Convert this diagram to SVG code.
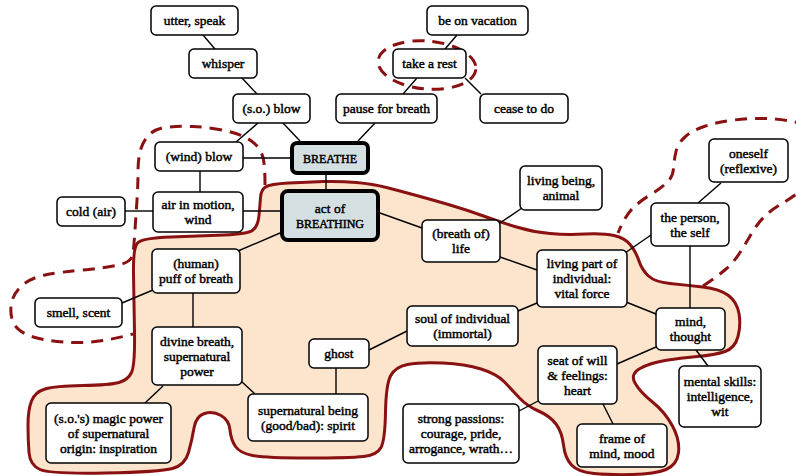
<svg xmlns="http://www.w3.org/2000/svg" width="796" height="476" viewBox="0 0 796 476" font-family="'Liberation Serif', 'DejaVu Serif', serif">
<style>
.blob{fill:#fde4cc;stroke:#8a1111;stroke-width:3;stroke-linejoin:round}
.dash{fill:none;stroke:#8a1111;stroke-width:3;stroke-dasharray:12 8;stroke-linecap:butt}
.conn line{stroke:#000;stroke-width:1.4}
.box{fill:#fff;stroke:#000;stroke-width:1.5}
.core{fill:#d4dfe1;stroke:#000;stroke-width:4}
text{font-family:'Liberation Serif', 'DejaVu Serif', serif;font-size:13.5px;fill:#000;stroke:#000;stroke-width:0.45;text-anchor:middle}
.sc{font-size:12px}
</style>
<g id="regions">
<path class="blob" d="M259,215.5 Q260,205 260.5,197.5 Q261,190 265.5,187 Q270,184 288.5,183 Q307,182 323.5,181.5 Q340,181 356.5,182.5 Q373,184 386.5,187.5 Q400,191 416.5,195.5 Q433,200 450,205 Q467,210 483.5,216 Q500,222 516.5,227 Q533,232 550,233.5 Q567,235 585,234 Q603,233 614,235.5 Q625,238 630.5,245 Q636,252 639,261 Q642,270 648.5,276 Q655,282 670,283.5 Q685,285 702.5,287 Q720,289 728.5,295.5 Q737,302 739,313.5 Q741,325 738,336.5 Q735,348 725,351.5 Q715,355 697.5,356.5 Q680,358 665,360.5 Q650,363 640,368.5 Q630,374 635,383 Q640,392 652.5,402 Q665,412 672.5,426 Q680,440 678.5,452.5 Q677,465 666,469.5 Q655,474 632.5,474.5 Q610,475 594,473.5 Q578,472 571.5,465 Q565,458 563.5,445 Q562,432 556,424 Q550,416 538.5,411 Q527,406 519.5,398 Q512,390 504.5,382 Q497,374 481,369 Q465,364 442.5,363 Q420,362 407.5,364.5 Q395,367 390.5,376 Q386,385 385.5,412.5 Q385,440 381,447.5 Q377,455 363.5,456.5 Q350,458 307.5,458 Q265,458 252.5,455.5 Q240,453 235.5,446.5 Q231,440 230,430 Q229,420 221,415.5 Q213,411 204.5,413.5 Q196,416 194,428 Q192,440 188.5,452.5 Q185,465 172.5,468.5 Q160,472 105,473 Q50,474 40,469.5 Q30,465 29,452.5 Q28,440 28,425 Q28,410 31.5,401 Q35,392 45,389 Q55,386 82.5,385.5 Q110,385 119,382.5 Q128,380 131.5,372.5 Q135,365 134.5,332.5 Q134,300 133.5,274 Q133,248 137.5,243 Q142,238 171,237 Q200,236 224,235 Q248,234 253,230 Q258,226 259,215.5 Z"/>
<path class="dash" d="M265,185 Q265,165 263,157.5 Q261,150 255.5,144.5 Q250,139 241.5,135.5 Q233,132 219,129.5 Q205,127 192.5,126.5 Q180,126 168.5,127 Q157,128 150.5,133.5 Q144,139 141,148.5 Q138,158 138,171.5 Q138,185 137,200 Q136,215 135,230 Q134,245 133,253.5 Q132,262 118.5,265 Q105,268 82.5,270 Q60,272 45,275 Q30,278 21,286.5 Q12,295 11,306.5 Q10,318 15,325.5 Q20,333 35,337.5 Q50,342 75,342.5 Q100,343 133,334"/>
<path class="dash" d="M703,286 Q718,276 726,269 Q734,262 740,252.5 Q746,243 751.5,233.5 Q757,224 764,217 Q771,210 780.5,204.5 Q790,199 802.5,189.5 Q815,180 822.5,165 Q830,150 820,137.5 Q810,125 795,122 Q780,119 765,118.5 Q750,118 734,120 Q718,122 705.5,126 Q693,130 685.5,136.5 Q678,143 676,151.5 Q674,160 673.5,168.5 Q673,177 666.5,183 Q660,189 650,195 Q640,201 632.5,208.5 Q625,216 618,233"/>
<ellipse class="dash" cx="427" cy="65" rx="49" ry="24" transform="rotate(5 427 65)"/>
</g>
<g id="connectors" class="conn">
<line x1="203" y1="35" x2="215" y2="49"/>
<line x1="242" y1="78" x2="257" y2="94"/>
<line x1="258" y1="123" x2="236" y2="142"/>
<line x1="283" y1="123" x2="300" y2="141"/>
<line x1="375" y1="123" x2="358" y2="141"/>
<line x1="457" y1="35" x2="445" y2="49"/>
<line x1="417" y1="78" x2="403" y2="94"/>
<line x1="465" y1="78" x2="481" y2="94"/>
<line x1="243" y1="158" x2="290" y2="158"/>
<line x1="200" y1="171" x2="200" y2="192"/>
<line x1="125" y1="211" x2="153" y2="211"/>
<line x1="243" y1="211" x2="280" y2="211"/>
<line x1="326" y1="175" x2="326" y2="189"/>
<line x1="280" y1="233" x2="238" y2="251"/>
<line x1="153" y1="290" x2="122" y2="303"/>
<line x1="193" y1="293" x2="193" y2="327"/>
<line x1="163" y1="386" x2="145" y2="403"/>
<line x1="241" y1="381" x2="255" y2="394"/>
<line x1="336" y1="368" x2="336" y2="394"/>
<line x1="369" y1="350" x2="407" y2="331"/>
<line x1="380" y1="213" x2="422" y2="228"/>
<line x1="500" y1="223" x2="522" y2="208"/>
<line x1="500" y1="257" x2="537" y2="270"/>
<line x1="537" y1="303" x2="518" y2="311"/>
<line x1="625" y1="253" x2="651" y2="235"/>
<line x1="698" y1="203" x2="721" y2="183"/>
<line x1="690" y1="246" x2="690" y2="308"/>
<line x1="626" y1="302" x2="656" y2="314"/>
<line x1="656" y1="347" x2="617" y2="364"/>
<line x1="696" y1="350" x2="708" y2="366"/>
<line x1="540" y1="400" x2="519" y2="411"/>
<line x1="603" y1="404" x2="613" y2="424"/>
</g>
<g id="n-utter"><rect class="box" x="151" y="6" width="87" height="29" rx="5"/><text x="194.5" y="25">utter, speak</text></g>
<g id="n-whisper"><rect class="box" x="189" y="49" width="68" height="29" rx="5"/><text x="223" y="68">whisper</text></g>
<g id="n-soblow"><rect class="box" x="233" y="94" width="77" height="29" rx="5"/><text x="271.5" y="113">(s.o.) blow</text></g>
<g id="n-pause"><rect class="box" x="336" y="94" width="101" height="29" rx="5"/><text x="386.5" y="113">pause for breath</text></g>
<g id="n-vacation"><rect class="box" x="427" y="6" width="101" height="29" rx="5"/><text x="477.5" y="25">be on vacation</text></g>
<g id="n-rest"><rect class="box" x="393" y="49" width="73" height="29" rx="5"/><text x="429.5" y="68">take a rest</text></g>
<g id="n-cease"><rect class="box" x="480" y="94" width="88" height="29" rx="5"/><text x="524" y="113">cease to do</text></g>
<g id="n-breathe"><rect class="core" x="292" y="143" width="76" height="30" rx="5"/><text class="sc" x="330" y="162.5">BREATHE</text></g>
<g id="n-windblow"><rect class="box" x="155" y="142" width="88" height="29" rx="5"/><text x="199" y="161">(wind) blow</text></g>
<g id="n-air"><rect class="box" x="153" y="192" width="90" height="40" rx="5"/><text x="198" y="209">air in motion,</text><text x="198" y="224">wind</text></g>
<g id="n-cold"><rect class="box" x="57" y="197" width="68" height="29" rx="5"/><text x="91" y="216">cold (air)</text></g>
<g id="n-act"><rect class="core" x="282" y="191" width="96" height="49" rx="6"/><text x="330" y="212.5">act of</text><text class="sc" x="330" y="227.5">BREATHING</text></g>
<g id="n-puff"><rect class="box" x="152" y="249" width="88" height="44" rx="5"/><text x="196" y="268">(human)</text><text x="196" y="283">puff of breath</text></g>
<g id="n-smell"><rect class="box" x="35" y="298" width="87" height="29" rx="5"/><text x="78.5" y="317">smell, scent</text></g>
<g id="n-divine"><rect class="box" x="152" y="327" width="90" height="58" rx="5"/><text x="197" y="345.5">divine breath,</text><text x="197" y="360.5">supernatural</text><text x="197" y="375.5">power</text></g>
<g id="n-magic"><rect class="box" x="46" y="403" width="125" height="60" rx="5"/><text x="108.5" y="422.5">(s.o.'s) magic power</text><text x="108.5" y="437.5">of supernatural</text><text x="108.5" y="452.5">origin: inspiration</text></g>
<g id="n-spirit"><rect class="box" x="248" y="394" width="120" height="47" rx="5"/><text x="308" y="414.5">supernatural being</text><text x="308" y="429.5">(good/bad): spirit</text></g>
<g id="n-ghost"><rect class="box" x="309" y="339" width="60" height="29" rx="5"/><text x="339" y="358">ghost</text></g>
<g id="n-soul"><rect class="box" x="407" y="306" width="111" height="40" rx="5"/><text x="462.5" y="323">soul of individual</text><text x="462.5" y="338">(immortal)</text></g>
<g id="n-life"><rect class="box" x="422" y="220" width="78" height="42" rx="5"/><text x="461" y="238">(breath of)</text><text x="461" y="253">life</text></g>
<g id="n-being"><rect class="box" x="520" y="166" width="82" height="44" rx="5"/><text x="561" y="185">living being,</text><text x="561" y="200">animal</text></g>
<g id="n-vital"><rect class="box" x="537" y="250" width="90" height="57" rx="5"/><text x="582" y="268">living part of</text><text x="582" y="283">individual:</text><text x="582" y="298">vital force</text></g>
<g id="n-person"><rect class="box" x="651" y="203" width="78" height="43" rx="5"/><text x="690" y="221.5">the person,</text><text x="690" y="236.5">the self</text></g>
<g id="n-oneself"><rect class="box" x="709" y="139" width="79" height="43" rx="5"/><text x="748.5" y="157.5">oneself</text><text x="748.5" y="172.5">(reflexive)</text></g>
<g id="n-mind"><rect class="box" x="656" y="308" width="69" height="42" rx="5"/><text x="690.5" y="326">mind,</text><text x="690.5" y="341">thought</text></g>
<g id="n-heart"><rect class="box" x="538" y="346" width="79" height="58" rx="5"/><text x="577.5" y="364.5">seat of will</text><text x="577.5" y="379.5">&amp; feelings:</text><text x="577.5" y="394.5">heart</text></g>
<g id="n-skills"><rect class="box" x="679" y="366" width="82" height="61" rx="5"/><text x="720" y="386">mental skills:</text><text x="720" y="401">intelligence,</text><text x="720" y="416">wit</text></g>
<g id="n-passions"><rect class="box" x="403" y="404" width="116" height="59" rx="5"/><text x="461" y="423">strong passions:</text><text x="461" y="438">courage, pride,</text><text x="461" y="453">arrogance, wrath…</text></g>
<g id="n-mood"><rect class="box" x="577" y="424" width="90" height="43" rx="5"/><text x="622" y="442.5">frame of</text><text x="622" y="457.5">mind, mood</text></g>
</svg>
